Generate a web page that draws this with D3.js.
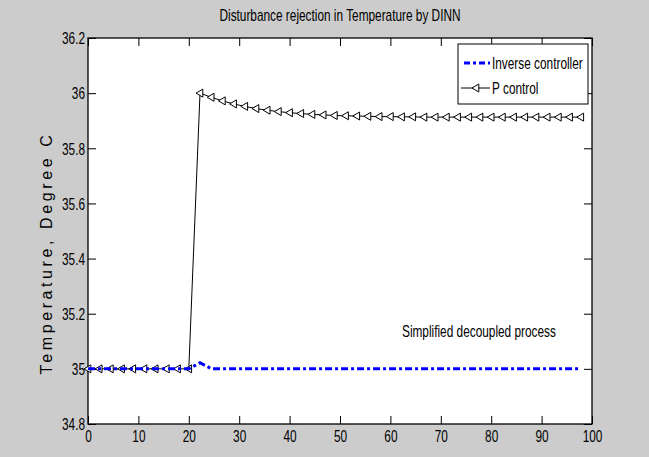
<!DOCTYPE html>
<html><head><meta charset="utf-8">
<script src="https://cdn.jsdelivr.net/npm/d3@7"></script>
<style>
html,body{margin:0;padding:0;background:#cccccc;}
svg{display:block;}
text{font-family:"Liberation Sans",Arial,Helvetica,sans-serif;fill:#000;}
</style></head>
<body><svg id="c" width="649" height="457"></svg>
<script>
// Data
const timeStep = 100/45;
const pControl = [35,35,35,35,35,35,35,35,35,35,
  36.0,35.985,35.972,35.961,35.952,35.944,35.938,35.933,35.929,35.926,
  35.923,35.921,35.919,35.918,35.917,35.916,35.915,35.915,35.914,35.914,
  35.913,35.913,35.913,35.913,35.913,35.913,35.913,35.913,35.913,35.913,
  35.913,35.913,35.913,35.913,35.913];
const inverseCtrl = [35,35,35,35,35,35,35,35,35,35,
  35.022,35.001,35,35,35,35,35,35,35,35,
  35,35,35,35,35,35,35,35,35,35,
  35,35,35,35,35,35,35,35,35,35,
  35,35,35,35,35];
const xTicks = [0,10,20,30,40,50,60,70,80,90,100];
const yTicks = [34.8,35,35.2,35.4,35.6,35.8,36,36.2];
const seriesNames = ["Inverse controller","P control"];
const titleText = "Disturbance rejection in Temperature by DINN";
const yLabel = "Temperature, Degree C";
const annotation = "Simplified decoupled process";

const FS = 16, SX = 0.74;
const svg = d3.select("#c");
const L=88, R=592, T=38, B=424;
const x = d3.scaleLinear().domain([0,100]).range([L,R]);
const y = d3.scaleLinear().domain([34.8,36.2]).range([B,T]);

function label(g, px, py, str, anchor){
  return g.append("text").attr("transform",`translate(${px},${py}) scale(${SX},1)`)
    .attr("text-anchor",anchor||"start").attr("font-size",FS).text(str);
}

svg.append("rect").attr("x",L).attr("y",T).attr("width",R-L).attr("height",B-T).attr("fill","#fff");

const tl = 8;
const xAx = svg.append("g").attr("transform",`translate(0,${B})`)
  .call(d3.axisBottom(x).tickValues(xTicks).tickSize(-tl).tickPadding(7).tickFormat(d3.format("d")));
const xAxTop = svg.append("g").attr("transform",`translate(0,${T})`)
  .call(d3.axisTop(x).tickValues(xTicks).tickSize(-tl).tickFormat(""));
const yAx = svg.append("g").attr("transform",`translate(${L},0)`)
  .call(d3.axisLeft(y).tickValues(yTicks).tickSize(-tl).tickPadding(4).tickFormat(d=>String(+d.toFixed(1))));
const yAxR = svg.append("g").attr("transform",`translate(${R},0)`)
  .call(d3.axisRight(y).tickValues(yTicks).tickSize(-tl).tickFormat(""));
[xAx,xAxTop,yAx,yAxR].forEach(g=>{
  g.select(".domain").remove();
  g.selectAll("line").attr("stroke","#000");
  g.selectAll("text").attr("font-size",FS).attr("font-family",null)
    .attr("transform",`scale(${SX},1)`);
});
yAx.selectAll("text").attr("dy","0.36em");
svg.append("rect").attr("x",L).attr("y",T).attr("width",R-L).attr("height",B-T)
  .attr("fill","none").attr("stroke","#000").attr("stroke-width",1.3);

const line = d3.line().x((d,i)=>x(i*timeStep)).y(d=>y(d));

// P control
svg.append("path").datum(pControl).attr("d",line).attr("fill","none").attr("stroke","#000").attr("stroke-width",1);
const tri = d3.symbol().type({draw(ctx,s){const r=4;ctx.moveTo(-r,0);ctx.lineTo(r*0.7,-r);ctx.lineTo(r*0.7,r);ctx.closePath();}});
svg.append("g").selectAll("path").data(pControl).join("path")
  .attr("d",tri()).attr("transform",(d,i)=>`translate(${x(i*timeStep)},${y(d)})`)
  .attr("fill","#fff").attr("stroke","#000").attr("stroke-width",1);

// Inverse controller
svg.append("path").datum(inverseCtrl).attr("d",line).attr("fill","none").attr("stroke","#0000ff")
  .attr("stroke-width",3).attr("stroke-dasharray","7,3,3,3");

// Title
label(svg,(L+R)/2,21,titleText,"middle");
// Y label
svg.append("text").attr("transform","translate(52,253) rotate(-90)").attr("text-anchor","middle")
  .attr("font-size",16).attr("letter-spacing",3.6).text(yLabel);
// Annotation
label(svg,402,337,annotation);

// Legend
const lg = svg.append("g");
lg.append("rect").attr("x",458).attr("y",44).attr("width",130).attr("height",60).attr("fill","#fff").attr("stroke","#000").attr("stroke-width",1);
lg.append("line").attr("x1",464).attr("x2",490).attr("y1",63).attr("y2",63).attr("stroke","#0000ff").attr("stroke-width",3).attr("stroke-dasharray","6,3,3,3");
label(lg,492,69,seriesNames[0]);
lg.append("line").attr("x1",461).attr("x2",490).attr("y1",88).attr("y2",88).attr("stroke","#000").attr("stroke-width",1);
lg.append("path").attr("d",tri()).attr("transform","translate(476,88)").attr("fill","#fff").attr("stroke","#000");
label(lg,492,94,seriesNames[1]);
</script></body></html>
